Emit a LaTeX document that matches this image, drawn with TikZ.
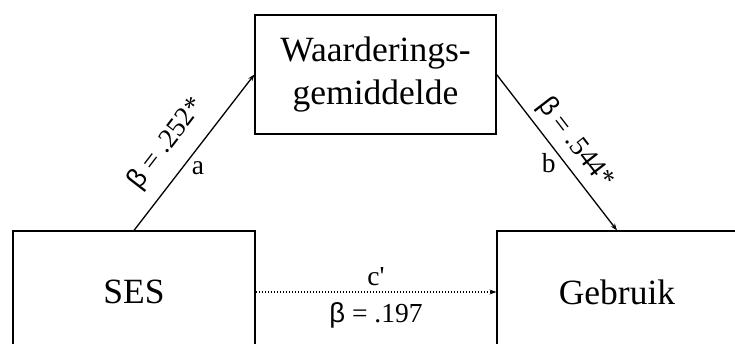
\documentclass[tikz,border=0pt]{standalone}
\usepackage{fontspec}
\setmainfont{Liberation Serif}
\newfontfamily\betafont{Liberation Sans}
\usetikzlibrary{arrows.meta}
\newcommand{\bt}{{\betafont β}}
\tikzset{
  box/.style={draw, line width=1.2pt, minimum width=241pt, minimum height=120pt, inner sep=0pt, font=\fontsize{35.5}{43}\selectfont, align=center},
  path arrow/.style={line width=1.3pt, -{Stealth[length=7pt,width=5pt]}},
  dot arrow/.style={line width=1.8pt, dash pattern=on 1.5pt off 1.5pt, -{Stealth[length=7pt,width=5pt]}},
  lbl/.style={font=\fontsize{27.5}{30}\selectfont, inner sep=1pt}
}
\begin{document}
\begin{tikzpicture}[x=1pt,y=-1pt]
\useasboundingbox (0,0) rectangle (735,344);
\clip (0,0) rectangle (735,344);
\node[box, minimum height=119pt] (W) at (375.5,74.5) {Waarderings-\\gemiddelde};
\node[box, minimum width=242pt, minimum height=122pt] (S) at (134,292) {SES};
\node[box, minimum width=240pt, minimum height=122pt] (G) at (617,292) {Gebruik};
\draw[path arrow] (S.north) -- node[lbl, sloped, above=13pt, pos=0.45] {\bt{} = .252*} node[lbl, pos=0.4, right=8pt] {a} (W.west);
\draw[path arrow] (W.east) -- node[lbl, sloped, above=6pt, pos=0.52] {\bt{} = .544*} node[lbl, pos=0.57, left=8pt] {b} (G.north);
\draw[dot arrow] (S.east) -- node[lbl, above=4pt] {c\textquotesingle} node[lbl, below=9pt] {\bt{} = .197} (G.west);
\end{tikzpicture}
\end{document}
